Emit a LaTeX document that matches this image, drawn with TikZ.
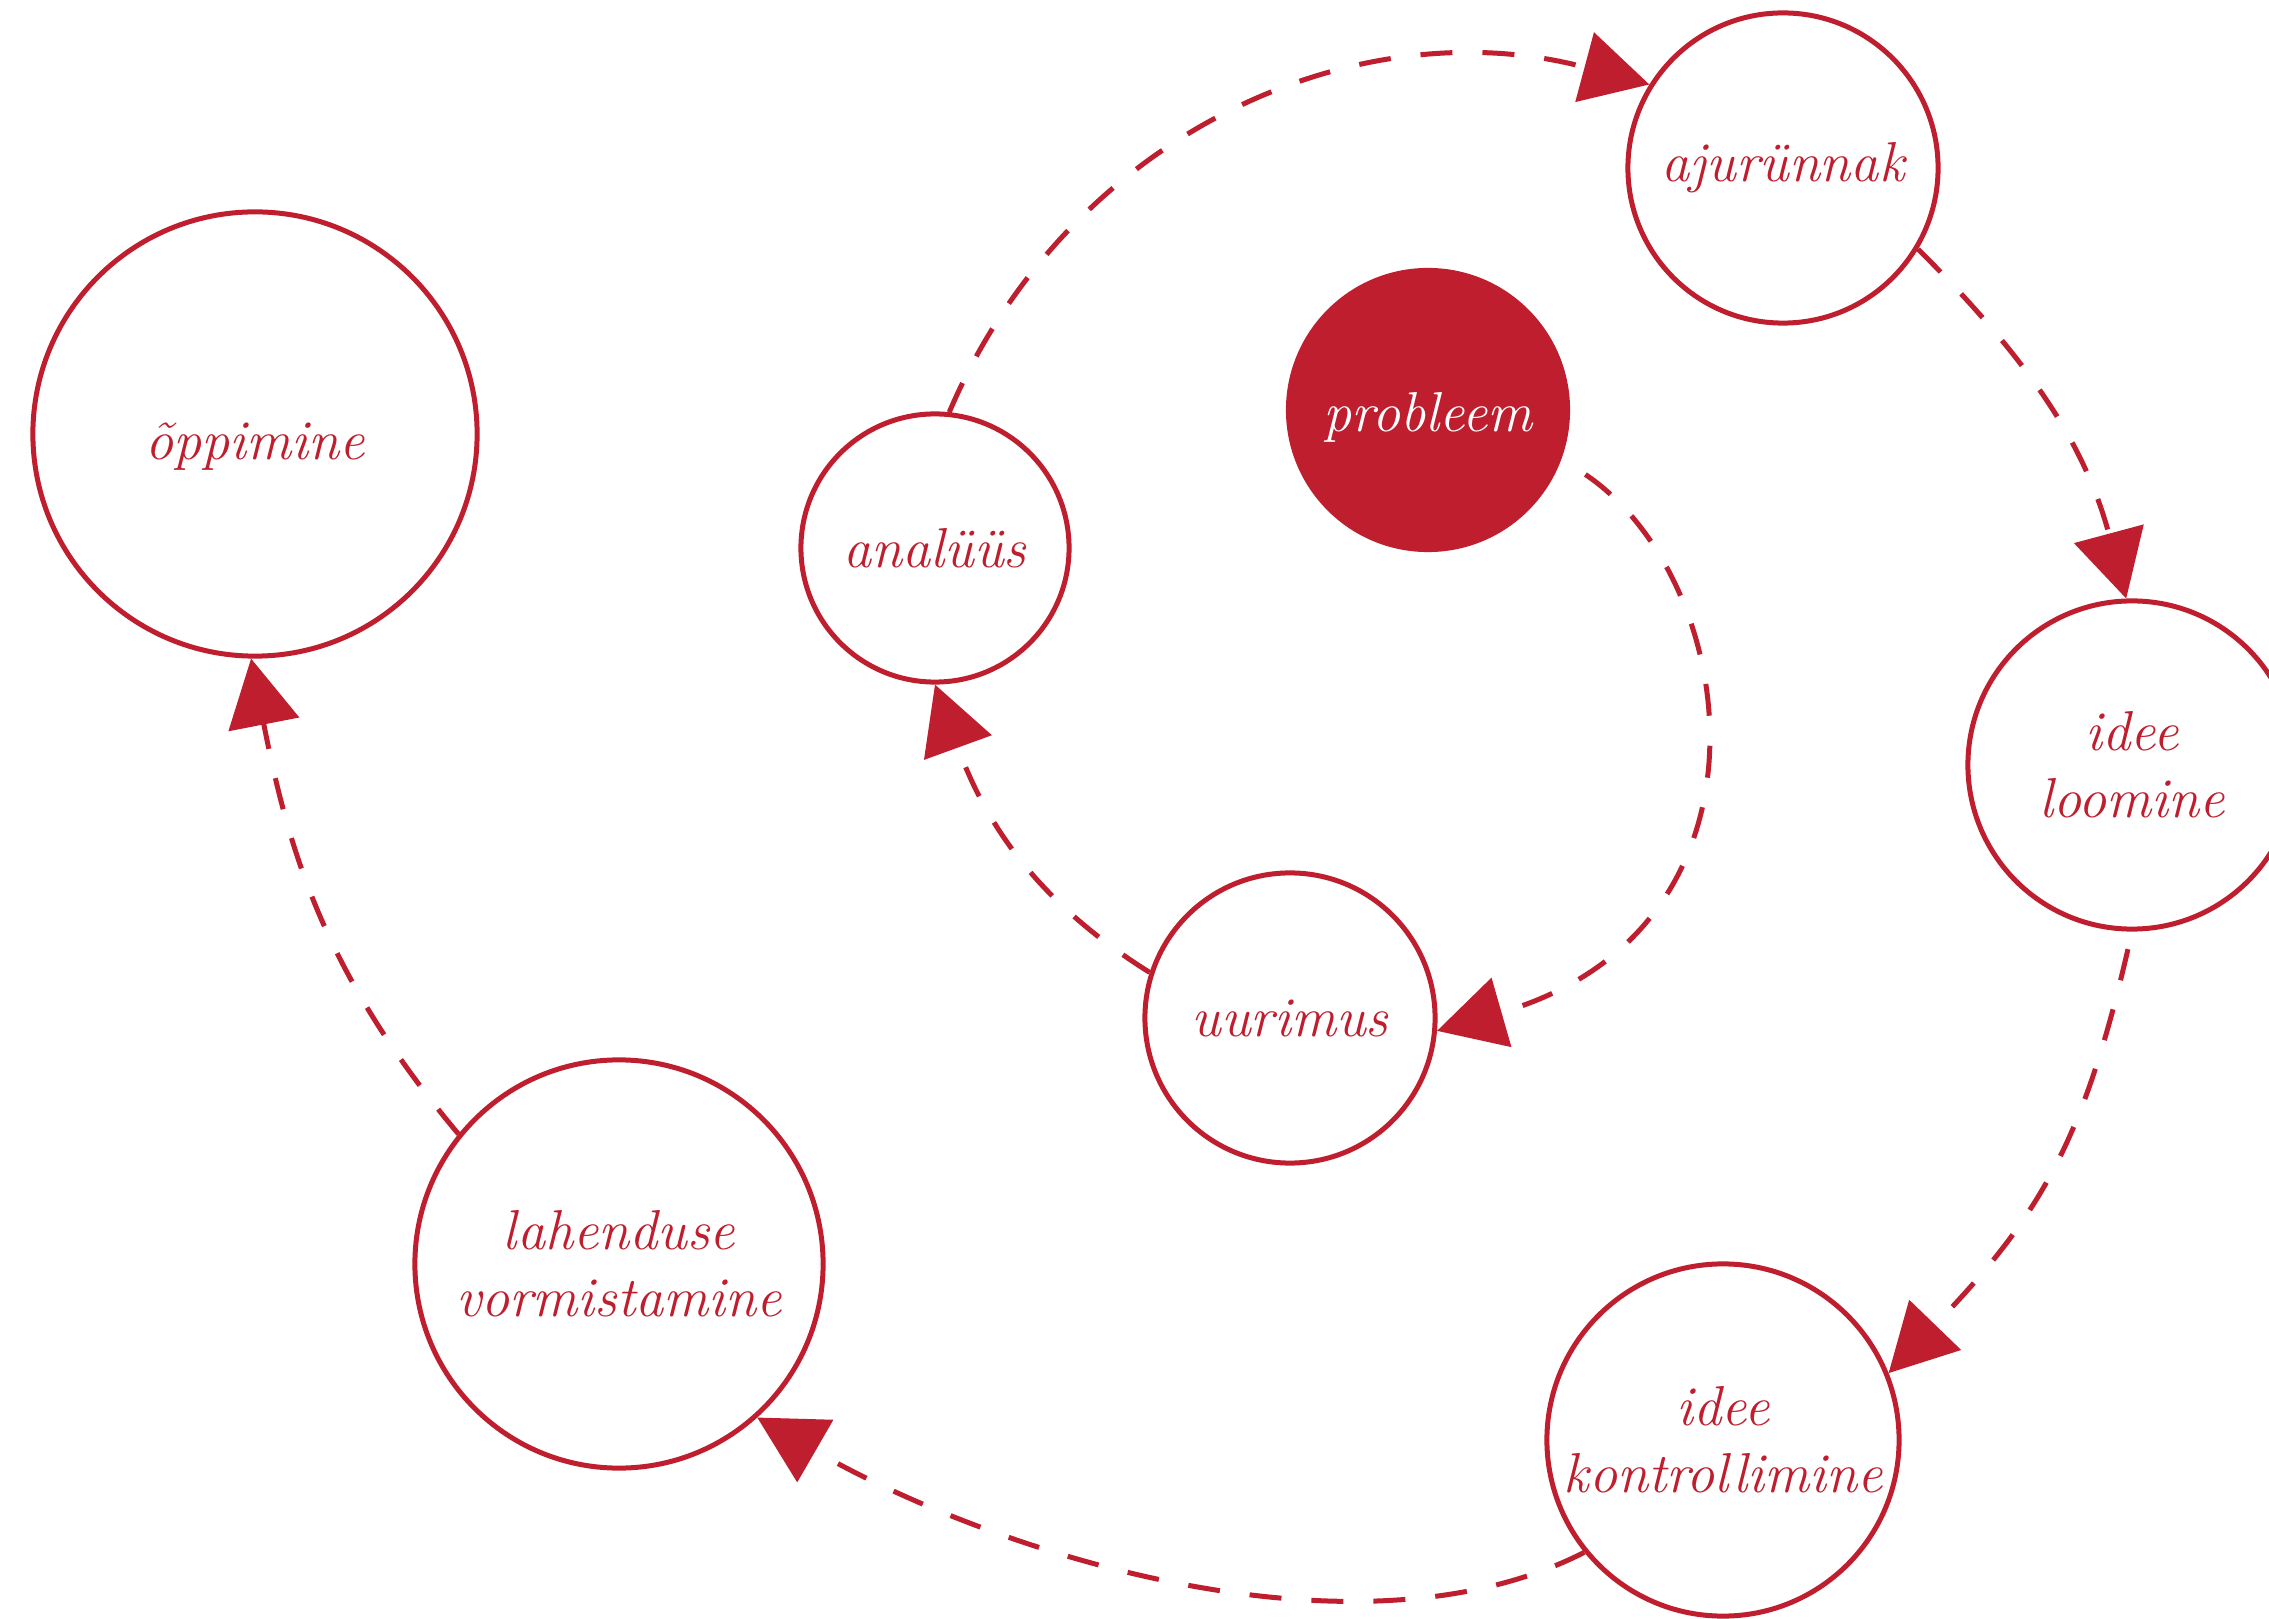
\documentclass[tikz,border=0pt]{standalone}
\usetikzlibrary{arrows.meta}
\definecolor{dred}{RGB}{190,30,45}
\begin{document}
\begin{tikzpicture}[x=0.01cm,y=0.01cm,
  lbl/.style={font=\fontsize{16pt}{19pt}\selectfont\itshape, align=center},
  stage/.style={circle, draw=dred, line width=0.05cm, inner sep=0pt, minimum size=#1, text=dred, lbl},
  hub/.style={circle, fill=dred, inner sep=0pt, minimum size=#1, text=white, lbl},
  flow/.style={draw=dred, line width=0.05cm, dash pattern=on 0.32cm off 0.30cm,
    -{Triangle[length=0.67cm,width=0.71cm]}}]
\useasboundingbox (0,0) rectangle (2269,-1619);
\clip (0,0) rectangle (2269,-1619);

\node[stage=4.44cm] (opp) at (255,-434) {\raisebox{-0.25cm}[0pt][0pt]{õppimine}};
\node[stage=2.68cm] (ana) at (935,-548) {analüüs};
\node[hub=2.84cm] (prob) at (1428,-410) {\raisebox{-0.21cm}[0pt][0pt]{probleem}};
\node[stage=3.10cm] (aju) at (1783,-168) {ajurünnak};
\node[stage=3.28cm] (loo) at (2132,-765) {idee\\loomine};
\node[stage=2.90cm] (uur) at (1290,-1018) {uurimus};
\node[stage=4.08cm] (lah) at (619,-1264) {lahenduse\\vormistamine};
\node[stage=3.52cm] (kon) at (1723,-1440) {idee\\kontrollimine};

\draw[flow, shorten <=0.28cm] (prob.-20) to[out=-34, in=16, out looseness=0.95, in looseness=1.6] (uur.-5);
\draw[flow] (uur.162) to[out=148, in=-70] (ana.south);
\draw[flow] (ana.84) to[out=67, in=165, looseness=1.0] (aju.148);
\draw[flow] (aju.-31) to[out=-45, in=105] (loo.92);
\draw[flow, shorten <=0.18cm] (loo.-90) to[out=-103, in=46, looseness=1.1] (kon.22);
\draw[flow] (kon.-141) to[out=-153, in=-30, looseness=0.8] (lah.-48);
\draw[flow] (lah.141) to[out=130, in=-79] (opp.-91);
\end{tikzpicture}
\end{document}
